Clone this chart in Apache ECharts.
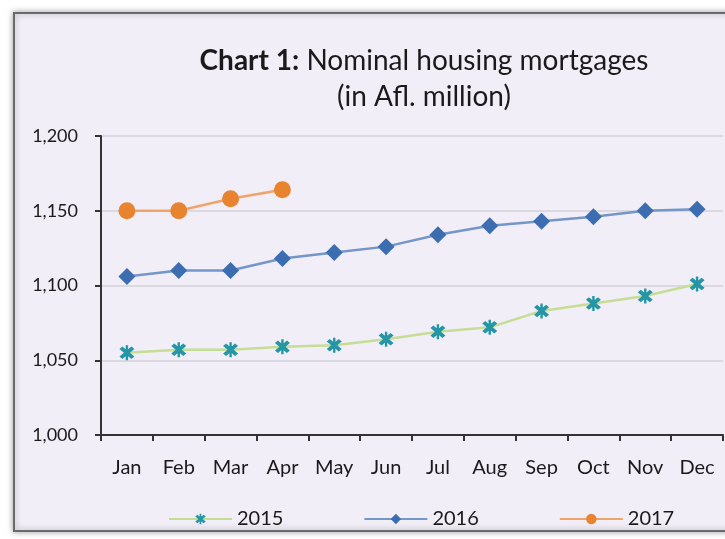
<!DOCTYPE html>
<html>
<head>
<meta charset="utf-8">
<script src="https://cdn.jsdelivr.net/npm/echarts@6/dist/echarts.min.js"></script>
<style>html,body{margin:0;padding:0;background:#fff;}#c{width:725px;height:539px;}</style>
</head>
<body>
<div id="c"></div>
<script>
const months = ['Jan','Feb','Mar','Apr','May','Jun','Jul','Aug','Sep','Oct','Nov','Dec'];
const s2015 = [1055, 1057, 1057, 1059, 1060, 1064, 1069, 1072, 1083, 1088, 1093, 1101];
const s2016 = [1106, 1110, 1110, 1118, 1122, 1126, 1134, 1140, 1143, 1146, 1150, 1151];
const s2017 = [1150, 1150, 1158, 1164];
const yTicks = { min: 1000, max: 1200, interval: 50 };

const FONT = 'Lato';
const star = 'path://M2,0 L5,3 L8,0 L10,2 L7,5 L10,8 L8,10 L5,7 L2,10 L0,8 L3,5 L0,2 Z M4.2,-1 L5.8,-1 L5.8,11 L4.2,11 Z';

const chart = echarts.init(document.getElementById('c'));
chart.setOption({
  animation: false,
  backgroundColor: '#ffffff',
  graphic: [
    { type: 'rect', z: -10, shape: { x: 14, y: 13, width: 720, height: 518 },
      style: { fill: '#f1eef8', stroke: '#6a6a6a', lineWidth: 2,
               shadowBlur: 6, shadowColor: 'rgba(0,0,0,0.35)', shadowOffsetX: 0, shadowOffsetY: 0 } }
  ],
  title: {
    text: '{b|Chart 1:} Nominal housing mortgages\n(in Afl. million)',
    left: 419, top: 38, textAlign: 'center',
    textStyle: {
      fontFamily: FONT, fontSize: 28, fontWeight: 'normal', color: '#1a1a1a', lineHeight: 36,
      rich: { b: { fontFamily: FONT, fontSize: 28, fontWeight: 'bold', color: '#1a1a1a' } }
    }
  },
  grid: { left: 101, top: 136, right: 2, bottom: 104 },
  legend: {
    top: 504, left: 163,
    itemWidth: 63, itemHeight: 13, itemGap: 80,
    textStyle: { fontFamily: FONT, fontSize: 20, color: '#1a1a1a' },
    data: ['2015', '2016', '2017']
  },
  xAxis: {
    type: 'category', data: months, boundaryGap: true,
    axisLine: { lineStyle: { color: '#333', width: 2 } },
    axisTick: { show: true, interval: 0, length: 6, lineStyle: { color: '#333', width: 2 } },
    axisLabel: { interval: 0, hideOverlap: false, fontFamily: FONT, fontSize: 20, color: '#1a1a1a', margin: 23 }
  },
  yAxis: {
    type: 'value', min: yTicks.min, max: yTicks.max, interval: yTicks.interval,
    axisLine: { show: true, lineStyle: { color: '#333', width: 2 } },
    axisTick: { show: true, length: 6, lineStyle: { color: '#333', width: 2 } },
    splitLine: { lineStyle: { color: '#d2d0d8', width: 1.5 } },
    axisLabel: { fontFamily: FONT, fontSize: 18, color: '#1a1a1a', margin: 23,
      formatter: v => v.toLocaleString('en-US') }
  },
  series: [
    { name: '2015', type: 'line', data: s2015, symbol: star, symbolSize: 15,
      lineStyle: { color: '#c6dd94', width: 2.5 },
      itemStyle: { color: '#2596a6' } },
    { name: '2016', type: 'line', data: s2016, symbol: 'diamond', symbolSize: 17,
      lineStyle: { color: '#7596c8', width: 2.5 },
      itemStyle: { color: '#3b6db0' } },
    { name: '2017', type: 'line', data: s2017, symbol: 'circle', symbolSize: 17,
      lineStyle: { color: '#efa56a', width: 2.5 },
      itemStyle: { color: '#e8832f' } }
  ]
});
</script>
</body>
</html>
